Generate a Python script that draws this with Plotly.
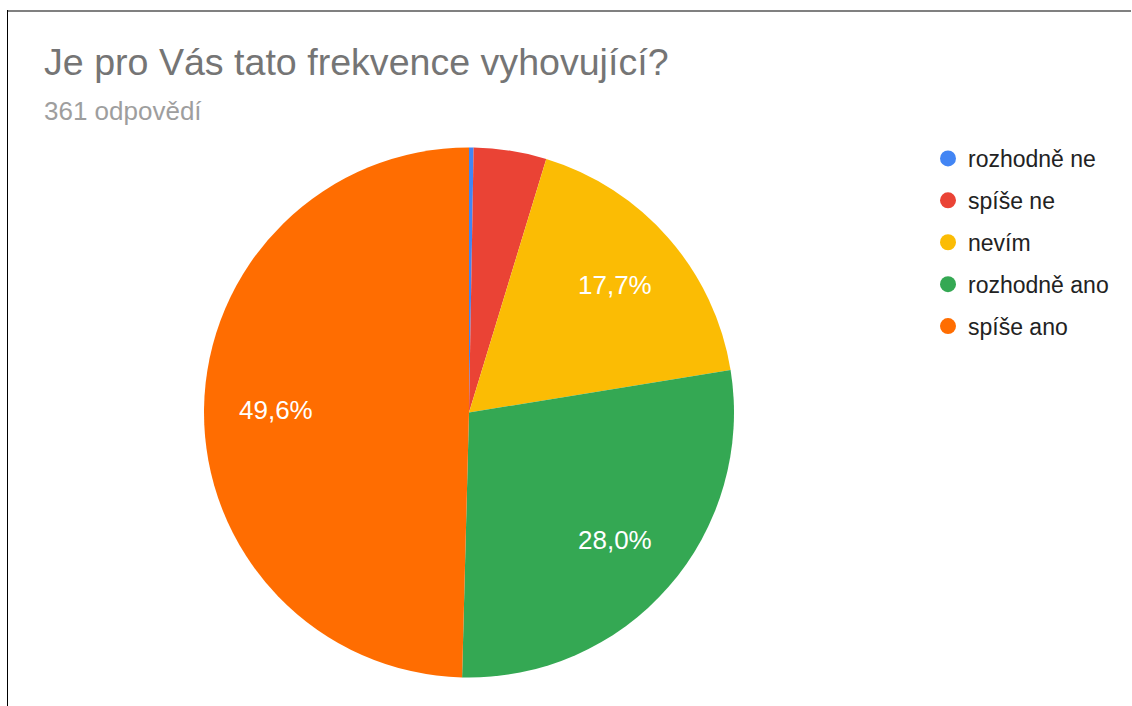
import math
import plotly.graph_objects as go

# Data
categories = ["rozhodně ne", "spíše ne", "nevím", "rozhodně ano", "spíše ano"]
counts = [1, 16, 64, 101, 179]
colors = ["#4285F4", "#EA4335", "#FBBC04", "#34A853", "#FF6D01"]
title_text = "Je pro Vás tato frekvence vyhovující?"
subtitle_text = "361 odpovědí"

W, H = 1132, 706
FONT = "Arial, 'Liberation Sans', sans-serif"
CX, CY, R = 469, 412.5, 265  # pie geometry in pixels
LABEL_FRAC = 0.73

total = sum(counts)

fig = go.Figure()
fig.add_trace(go.Pie(
    labels=categories,
    values=counts,
    textinfo="none",
    marker=dict(colors=colors, line=dict(width=0)),
    sort=False,
    direction="clockwise",
    rotation=0,
    showlegend=False,
    hoverinfo="label+percent",
    domain=dict(x=[(CX - R) / W, (CX + R) / W],
                y=[(H - CY - R) / H, (H - CY + R) / H]),
))

# percentage labels placed along each slice bisector (computed from data)
annotations = []
cum = 0
for c in counts:
    p = c / total
    mid = (cum + p / 2) * 2 * math.pi
    cum += p
    if p < 0.05:
        continue
    px = CX + LABEL_FRAC * R * math.sin(mid)
    py = CY - LABEL_FRAC * R * math.cos(mid)
    annotations.append(dict(
        text=f"{p * 100:.1f}".replace(".", ",") + "%",
        x=px / W, y=1 - py / H, xref="paper", yref="paper",
        xanchor="center", yanchor="middle", showarrow=False,
        font=dict(size=26, color="white", family=FONT)))

# legend entries as circle markers
for i, (cat, col) in enumerate(zip(categories, colors)):
    fig.add_trace(go.Scatter(
        x=[None], y=[None], mode="markers", name=cat,
        marker=dict(color=col, size=22, symbol="circle"),
        legendgroup=f"g{i}", showlegend=True, hoverinfo="skip",
    ))

annotations += [
    dict(text=title_text, x=42 / W, y=1 - 39 / H, xref="paper", yref="paper",
         xanchor="left", yanchor="top", showarrow=False,
         font=dict(size=37.6, color="#757575", family=FONT)),
    dict(text=subtitle_text, x=42 / W, y=1 - 94 / H, xref="paper", yref="paper",
         xanchor="left", yanchor="top", showarrow=False,
         font=dict(size=26, color="#9E9E9E", family=FONT)),
]

fig.update_layout(
    width=W, height=H,
    margin=dict(l=0, r=0, t=0, b=0),
    paper_bgcolor="white",
    plot_bgcolor="white",
    xaxis=dict(visible=False),
    yaxis=dict(visible=False),
    legend=dict(
        x=928 / W, y=1 - 137 / H, xanchor="left", yanchor="top",
        font=dict(size=23, color="#222222", family=FONT),
        tracegroupgap=9,
        traceorder="grouped",
        bgcolor="rgba(0,0,0,0)",
    ),
    annotations=annotations,
    shapes=[
        dict(type="line", xref="paper", yref="paper", x0=7 / W, x1=1131 / W,
             y0=1 - 11 / H, y1=1 - 11 / H, line=dict(color="#808080", width=2)),
        dict(type="line", xref="paper", yref="paper", x0=7.5 / W, x1=7.5 / W,
             y0=1 - 10 / H, y1=0, line=dict(color="#000000", width=1)),
    ],
)

fig.write_html("out.html", config={"displayModeBar": False},
               post_script="document.body.style.margin='0';")
